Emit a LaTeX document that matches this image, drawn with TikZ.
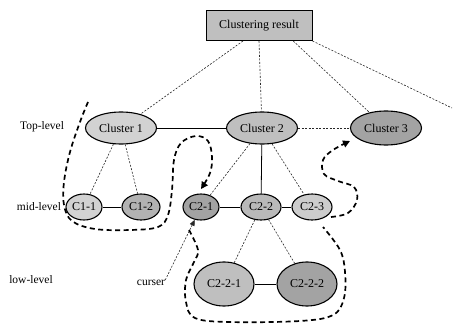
\documentclass[tikz,border=0pt]{standalone}
\usepackage{fontspec}
\setmainfont{Liberation Serif}
\usetikzlibrary{shapes.geometric,arrows.meta,calc}
\begin{document}
\begin{tikzpicture}[x=1pt,y=-1pt,
  ell/.style={ellipse,draw=black,line width=1.1pt,inner sep=0pt,font=\fontsize{12}{13}\selectfont},
  top/.style={ell,minimum width=71pt,minimum height=32pt},
  mid/.style={ell,minimum width=38pt,minimum height=26pt},
  low/.style={ell,minimum width=60pt,minimum height=44pt},
  lab/.style={font=\fontsize{11.5}{12}\selectfont,inner sep=0pt},
  fine/.style={line width=0.6pt,dash pattern=on 2pt off 1.5pt,draw=black!85},
  link/.style={line width=0.8pt},
  trail/.style={line width=1.7pt,dash pattern=on 5pt off 3.5pt},
  tip/.style={-{Triangle[length=7pt,width=7pt]}},
]
\useasboundingbox (0,0) rectangle (454,326);
% root
\node[draw,line width=1pt,fill=gray!50,minimum width=106pt,minimum height=30pt,inner sep=0pt,font=\fontsize{12}{13}\selectfont] (res) at (259,25.5) {Clustering result};
% top level
\node[top,fill=gray!35] (c1) at (121,128) {Cluster 1};
\node[top,fill=gray!50] (c2) at (262,128) {Cluster 2};
\node[top,fill=gray!72,minimum height=34pt] (c3) at (386,128) {Cluster 3};
% mid level
\node[mid,fill=gray!35,minimum width=36pt] (c11) at (84,207) {C1-1};
\node[mid,fill=gray!60] (c12) at (141,207) {C1-2};
\node[mid,fill=gray!72,minimum width=36pt] (c21) at (201,207) {C2-1};
\node[mid,fill=gray!55,minimum width=40pt] (c22) at (261,207) {C2-2};
\node[mid,fill=gray!40,minimum width=40pt] (c23) at (312,207) {C2-3};
% low level
\node[low,fill=gray!50] (c221) at (224,284) {C2-2-1};
\node[low,fill=gray!72] (c222) at (307,284) {C2-2-2};
% labels
\node[lab] (ltop) at (42,127) {Top-level};
\node[lab] (lmid) at (39,207) {mid-level};
\node[lab] (llow) at (31,280) {low-level};
\node[lab] (cur) at (151,283) {curser};
\coordinate (offr) at (452,108);
% connectors from root
\draw[fine] ($(res.south west)!0.35!(res.south east)$) -- (c1);
\draw[fine] (res.south) -- (c2);
\draw[fine] ($(res.south west)!0.82!(res.south east)$) -- (c3);
\draw[fine] (res.south east) -- (offr);
% top level links
\draw[link] (c1) -- (c2);
\draw[fine] (c2) -- (c3);
% to mid level
\draw[fine] (c1) -- (c11);
\draw[fine] (c1) -- (c12);
\draw[link] (c11) -- (c12);
\draw[fine] (c2) -- (c21);
\draw[link] (c2) -- (c22);
\draw[fine] (c2) -- (c23);
\draw[link] (c21) -- (c22);
\draw[link] (c22) -- (c23);
% to low level
\draw[fine] (c22) -- (c221);
\draw[fine] (c22) -- (c222);
\draw[link] (c221) -- (c222);
% cursor
\draw[fine,-{Triangle[length=6pt,width=5pt]}] (cur.north east) -- (c21);
% traversal trails
\draw[trail,tip] plot[smooth,tension=0.6] coordinates {(88,102) (80,122) (70,152) (64,182) (64,205) (72,221) (95,229) (130,230) (158,227) (168,215) (172,190) (174,160) (181,143) (196,136) (208,141) (212,157) (210,173) (201,189)};
\draw[trail] plot[smooth,tension=0.6] coordinates {(189,230) (198,250) (194,262) (186,280) (186,302) (195,318) (230,322) (300,321) (333,315) (344,298) (345,272) (340,250) (323,227)};
\draw[trail,tip] plot[smooth,tension=0.6] coordinates {(331,217) (348,213) (357,200) (354,187) (338,181) (324,174) (323,160) (333,150) (350,141)};
\end{tikzpicture}
\end{document}
